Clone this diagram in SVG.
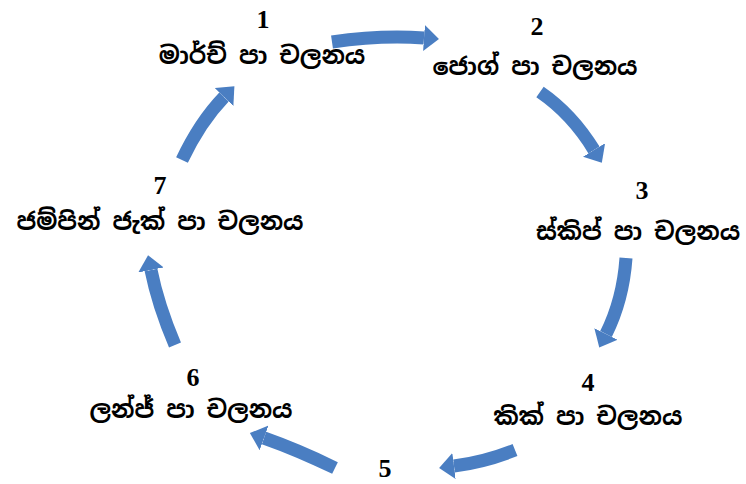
<svg xmlns="http://www.w3.org/2000/svg" width="746" height="484" viewBox="0 0 746 484">
<style>
.num{font-family:"Liberation Serif","Times New Roman",serif;font-weight:bold;font-size:26px;fill:#000;text-anchor:middle}
.lbl{font-family:"Noto Sans Sinhala","Iskoola Pota","Noto Serif Sinhala","Noto Sans",sans-serif;font-weight:bold;font-size:24px;fill:#000;text-anchor:middle}
.arr{fill:none;stroke:#4A7EC2;stroke-width:13;marker-end:url(#head)}
</style>
<defs>
<marker id="head" markerUnits="userSpaceOnUse" markerWidth="16" markerHeight="26" refX="0" refY="13" orient="auto" viewBox="0 0 16 26">
<path d="M0,0 L15,13 L0,26 Z" fill="#4A7EC2"/>
</marker>
</defs>
<rect width="746" height="484" fill="#fff"/>
<g id="connectors">
<path class="arr" d="M332,42 Q380,35 424,38"/>
<path class="arr" d="M540,92 Q572,114 594,150"/>
<path class="arr" d="M626,258 Q623,300 606,334"/>
<path class="arr" d="M515,450 Q485,462 454,466"/>
<path class="arr" d="M335,468 Q298,450 264,438"/>
<path class="arr" d="M175,345 Q158,305 151,270"/>
<path class="arr" d="M182,160 Q200,122 224,97"/>
</g>
<g id="node1"><text class="num" x="263" y="28">1</text><text class="lbl" x="262" y="64">මාර්ච් පා චලනය</text></g>
<g id="node2"><text class="num" x="537" y="35">2</text><text class="lbl" x="535" y="75">ජොග් පා චලනය</text></g>
<g id="node3"><text class="num" x="642" y="199">3</text><text class="lbl" x="638" y="240">ස්කිප් පා චලනය</text></g>
<g id="node4"><text class="num" x="588" y="391">4</text><text class="lbl" x="588" y="425">කික් පා චලනය</text></g>
<g id="node5"><text class="num" x="385" y="477">5</text></g>
<g id="node6"><text class="num" x="193" y="386">6</text><text class="lbl" x="191" y="418">ලන්ජ් පා චලනය</text></g>
<g id="node7"><text class="num" x="160" y="194">7</text><text class="lbl" x="160" y="230">ජම්පින් ජැක් පා චලනය</text></g>
</svg>
